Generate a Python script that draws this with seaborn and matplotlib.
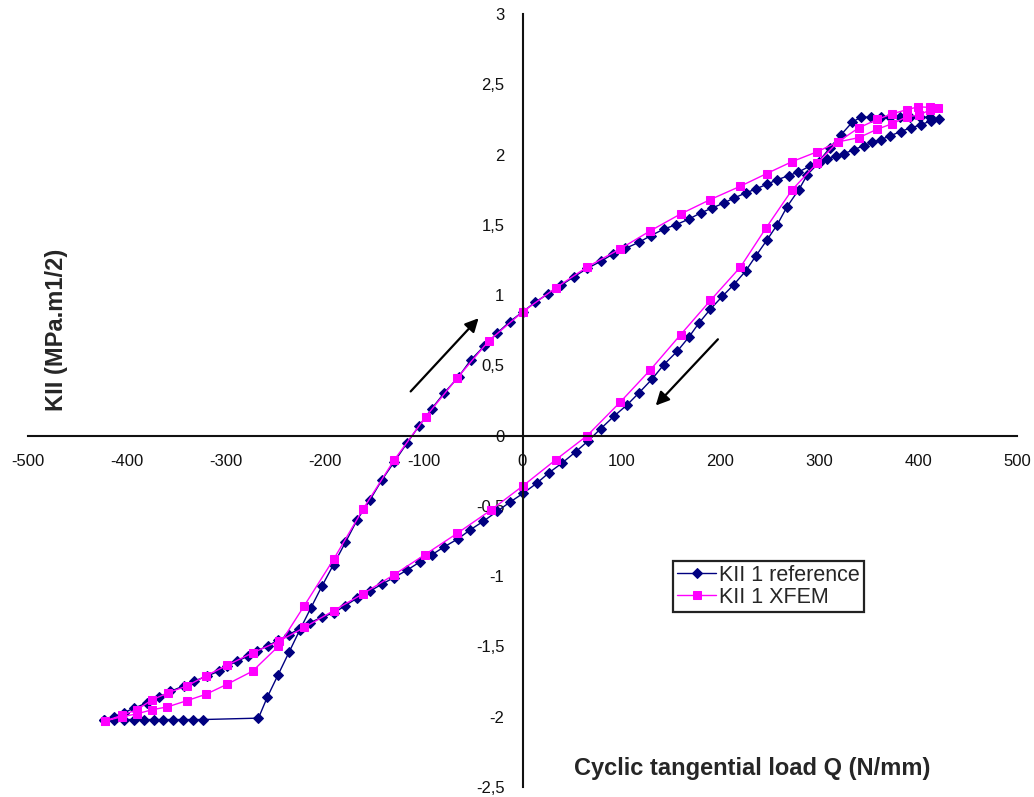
import matplotlib
matplotlib.use('Agg')
import matplotlib.pyplot as plt
import seaborn as sns

# KII 1 reference: bottom plateau -> loading branch -> top plateau -> unloading branch
q_ref = [-423, -413, -403, -393, -383, -373, -363, -353, -343, -333, -323,
         -267, -258, -247, -236, -225, -214, -202.5, -191, -179, -167, -154, -142,
         -129.5, -117, -104.5, -92, -79, -64.5, -52.5, -39, -25.5, -13, 0,
         13, 26, 39, 52, 65.5, 79, 92, 104, 117.5, 129.5, 143, 155, 168, 180, 192,
         203.5, 213.6, 225.5, 235.6, 247.4, 257.5, 269, 279, 291, 300, 308, 316.5,
         325, 335, 345, 353.6, 362, 372, 382.3, 392.4, 402.5, 412.6, 421,
         412, 402, 392, 382, 372, 362, 352, 342, 333.4,
         322, 311, 299.5, 288, 279.4, 267.6, 257.5, 247.4, 235.6, 225.5, 213.6, 201.9,
         190, 178.3, 168.1, 156.4, 142.9, 131.1, 117.6, 105.9, 92.3, 78.9, 66, 53.6,
         40, 26.6, 14.2, 0.7, -12.8, -25.6, -39.7, -52.6, -65.4, -78.9, -91.3, -104,
         -117, -130, -142, -154.4, -167, -179, -190.8, -202.5, -214.4, -226, -236,
         -247, -257, -268, -278, -288.5, -298.6, -307, -318.8, -332, -342.5, -356,
         -367.7, -379.5, -393, -403, -413, -423]
k_ref = [-2.02, -2.02, -2.02, -2.02, -2.02, -2.02, -2.02, -2.02, -2.02, -2.02, -2.02,
         -2.01, -1.86, -1.70, -1.54, -1.38, -1.226, -1.067, -0.917, -0.759, -0.597, -0.455, -0.313,
         -0.185, -0.055, 0.07, 0.19, 0.305, 0.42, 0.536, 0.635, 0.73, 0.81, 0.88,
         0.95, 1.01, 1.07, 1.13, 1.19, 1.24, 1.294, 1.332, 1.375, 1.422, 1.47, 1.50, 1.54, 1.584, 1.62,
         1.655, 1.69, 1.726, 1.754, 1.79, 1.82, 1.85, 1.875, 1.92, 1.94, 1.965, 1.987,
         2.006, 2.034, 2.063, 2.086, 2.105, 2.134, 2.163, 2.19, 2.21, 2.24, 2.25,
         2.265, 2.265, 2.265, 2.265, 2.265, 2.265, 2.265, 2.266, 2.23,
         2.14, 2.05, 1.95, 1.856, 1.75, 1.63, 1.50, 1.394, 1.275, 1.17, 1.074, 0.99,
         0.90, 0.80, 0.70, 0.60, 0.505, 0.403, 0.303, 0.22, 0.137, 0.048, -0.04, -0.116,
         -0.195, -0.265, -0.34, -0.41, -0.474, -0.538, -0.61, -0.669, -0.735, -0.79, -0.846, -0.90,
         -0.958, -1.01, -1.056, -1.107, -1.155, -1.209, -1.261, -1.29, -1.33, -1.375, -1.415,
         -1.455, -1.494, -1.53, -1.57, -1.605, -1.64, -1.676, -1.71, -1.747, -1.78, -1.82,
         -1.86, -1.90, -1.94, -1.97, -2.0, -2.02]

# KII 1 XFEM: loading then unloading
q_xfem = [-422, -405, -390, -374.5, -359, -339, -320, -299, -273, -247, -221, -191,
          -161, -130, -98, -66, -34, 0, 33.4, 65.4, 99, 129.4, 159.8, 190, 220.4, 247,
          272.7, 298, 319, 340, 358.6, 374, 389, 401, 412.5, 420,
          412, 400.4, 389, 374, 358.6, 340, 319, 298, 272.7, 246, 220.4, 190, 159.8,
          129.4, 99, 65.4, 33.4, 0.7, -32, -66, -98.5, -130, -161, -191, -220.5, -246.5,
          -273, -299, -320.5, -339, -358.5, -374.5, -390, -405, -422]
k_xfem = [-2.03, -2.0, -1.98, -1.95, -1.93, -1.885, -1.84, -1.77, -1.676, -1.50, -1.214, -0.88,
          -0.52, -0.176, 0.133, 0.41, 0.675, 0.88, 1.05, 1.20, 1.33, 1.458, 1.577, 1.68, 1.775, 1.865,
          1.95, 2.02, 2.09, 2.12, 2.18, 2.22, 2.27, 2.28, 2.32, 2.33,
          2.335, 2.34, 2.32, 2.29, 2.25, 2.19, 2.09, 1.94, 1.75, 1.475, 1.20, 0.962, 0.718,
          0.469, 0.24, 0.0, -0.173, -0.356, -0.53, -0.695, -0.846, -0.99, -1.124, -1.245, -1.365, -1.463,
          -1.546, -1.635, -1.71, -1.78, -1.83, -1.88, -1.95, -1.99, -2.03]

x_ticks = [-500, -400, -300, -200, -100, 0, 100, 200, 300, 400, 500]
x_labels = ['-500', '-400', '-300', '-200', '-100', '0', '100', '200', '300', '400', '500']
y_ticks = [-2.5, -2, -1.5, -1, -0.5, 0, 0.5, 1, 1.5, 2, 2.5, 3]
y_labels = ['-2,5', '-2', '-1,5', '-1', '-0,5', '0', '0,5', '1', '1,5', '2', '2,5', '3']

sns.set_style('white')
plt.rcParams['font.family'] = ['Liberation Sans', 'DejaVu Sans']

fig = plt.figure(figsize=(10.34, 7.97), dpi=100)
ax = fig.add_axes([28/1034, 10/797, 989/1034, 773/797])

sns.lineplot(x=q_ref, y=k_ref, sort=False, estimator=None, ax=ax,
             color='#000080', linewidth=1.0, marker='D', markersize=5.2,
             markeredgecolor='#000080', label='KII 1 reference')
sns.lineplot(x=q_xfem, y=k_xfem, sort=False, estimator=None, ax=ax,
             color='#ff00ff', linewidth=1.0, marker='s', markersize=6.2,
             markeredgecolor='#ff00ff', label='KII 1 XFEM')

ax.set_xlim(-500, 500)
ax.set_ylim(-2.5, 3)
ax.spines['left'].set_position(('data', 0))
ax.spines['bottom'].set_position(('data', 0))
ax.spines['top'].set_visible(False)
ax.spines['right'].set_visible(False)
for s in ['left', 'bottom']:
    ax.spines[s].set_linewidth(1.5)
    ax.spines[s].set_color('#111111')
ax.set_axisbelow(True)

ax.set_xticks(x_ticks)
ax.set_xticklabels(x_labels)
ax.set_yticks(y_ticks)
ax.set_yticklabels(y_labels)
ax.tick_params(axis='both', direction='out', length=5, width=1.3, labelsize=12, colors='#111111')
ax.tick_params(axis='x', pad=8)
ax.tick_params(axis='y', pad=8)
ax.set_xlabel('')
ax.set_ylabel('')

# arrows showing the loading direction
ax.annotate('', xy=(-42.5, 0.85), xytext=(-115, 0.30),
            arrowprops=dict(arrowstyle='-|>', color='black', lw=1.6, mutation_scale=20))
ax.annotate('', xy=(132.8, 0.20), xytext=(199.5, 0.70),
            arrowprops=dict(arrowstyle='-|>', color='black', lw=1.6, mutation_scale=20))

leg = ax.legend(loc='upper left', bbox_to_anchor=(0.652, 0.293), fontsize=15.5,
                frameon=True, fancybox=False, framealpha=1, edgecolor='#222222',
                handlelength=1.8, borderpad=0.2, labelspacing=0.05, handletextpad=0.15,
                borderaxespad=0)
leg.get_frame().set_linewidth(1.6)

fig.text(752/1034, 1 - 768/797, 'Cyclic tangential load Q (N/mm)', ha='center', va='center',
         fontsize=17, fontweight='bold')
fig.text(56/1034, 1 - 330/797, 'KII (MPa.m1/2)', ha='center', va='center', rotation=90,
         fontsize=17, fontweight='bold')

fig.savefig('out.png', dpi=100)
